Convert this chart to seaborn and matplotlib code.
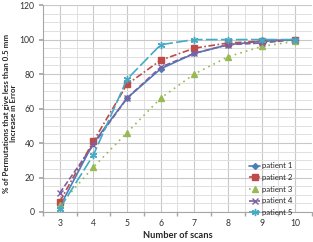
import matplotlib
matplotlib.use("Agg")
import matplotlib.pyplot as plt
import seaborn as sns
import pandas as pd
from matplotlib.ticker import MultipleLocator

scans = [3, 4, 5, 6, 7, 8, 9, 10]
patient_1 = [3, 40, 66, 83, 92, 97, 99, 100]
patient_2 = [6, 41, 74, 88, 95, 98, 99, 100]
patient_3 = [4, 26, 46, 66, 80, 90, 96, 99]
patient_4 = [11, 39, 66, 84, 92, 97, 98, 100]
patient_5 = [2, 33, 77, 97, 100, 100, 100, 100]
names = ["patient 1", "patient 2", "patient 3", "patient 4", "patient 5"]
series = [patient_1, patient_2, patient_3, patient_4, patient_5]

rows = []
for n, vals in zip(names, series):
    for s, v in zip(scans, vals):
        rows.append({"scans": s, "pct": v, "patient": n})
df = pd.DataFrame(rows)

sns.set_theme(style="white")
plt.rcParams["font.family"] = ["Lato", "DejaVu Sans"]

colors = ["#4A7EBB", "#BE4B48", "#98B954", "#7D60A0", "#46AAC5"]
dashes = [None, (4, 1.5, 1, 1.5), (1, 2.5), (3.5, 1.5), (7, 2)]
markers = ["D", "s", "^", "x", (6, 2, 0)]
msizes = [3, 3.8, 3.8, 4.2, 5.2]

fig = plt.figure(figsize=(3.13, 2.42), dpi=100)
ax = fig.add_axes([0.137, 0.124, 0.86, 0.855])

for i, n in enumerate(names):
    sub = df[df["patient"] == n]
    sns.lineplot(data=sub, x="scans", y="pct", color=colors[i], marker=markers[i],
                 markersize=msizes[i], linewidth=1.2, markeredgewidth=1.0,
                 label=n, ax=ax)
    ln = ax.lines[-1]
    if dashes[i] is not None:
        ln.set_dashes(dashes[i])
    ln.set_markeredgecolor(colors[i])

ax.set_xlim(2.5, 10.5)
ax.set_ylim(0, 120)
ax.set_xticks(scans)
ax.xaxis.set_minor_locator(MultipleLocator(0.5))
ax.yaxis.set_major_locator(MultipleLocator(20))
ax.yaxis.set_minor_locator(MultipleLocator(5))
ax.grid(which="major", color="#C8C8C8", linewidth=0.8)
ax.grid(which="minor", color="#E0E0E0", linewidth=0.7)
ax.set_axisbelow(True)
for s in ["top", "right"]:
    ax.spines[s].set_visible(False)
for s in ["left", "bottom"]:
    ax.spines[s].set_color("#A6A6A6")
    ax.spines[s].set_linewidth(0.8)
ax.tick_params(axis="x", which="major", length=0, labelsize=6.2, colors="#333333", pad=5)
ax.tick_params(axis="x", which="minor", length=3, color="#A6A6A6", bottom=True)
ax.tick_params(axis="y", which="major", length=3, color="#A6A6A6", labelsize=6.2,
               colors="#333333", left=True, pad=3)
ax.tick_params(axis="y", which="minor", length=0)

ax.set_xlabel("Number of scans", fontsize=6.7, fontweight="bold", labelpad=2)
ax.set_ylabel("% of Permutations that give less than 0.5 mm\nIncrease in Error",
              fontsize=5.7, fontweight="bold", linespacing=1.15)
ax.yaxis.label.set_va("center")
ax.yaxis.set_label_coords(-0.122, 0.478)

leg = ax.legend(loc="lower right", bbox_to_anchor=(292 / 313, 26 / 242),
                bbox_transform=fig.transFigure, frameon=False,
                fontsize=5.6, handlelength=1.5, handletextpad=0.15,
                labelspacing=0.6, borderpad=0, borderaxespad=0)

fig.savefig("out.png", dpi=100)
